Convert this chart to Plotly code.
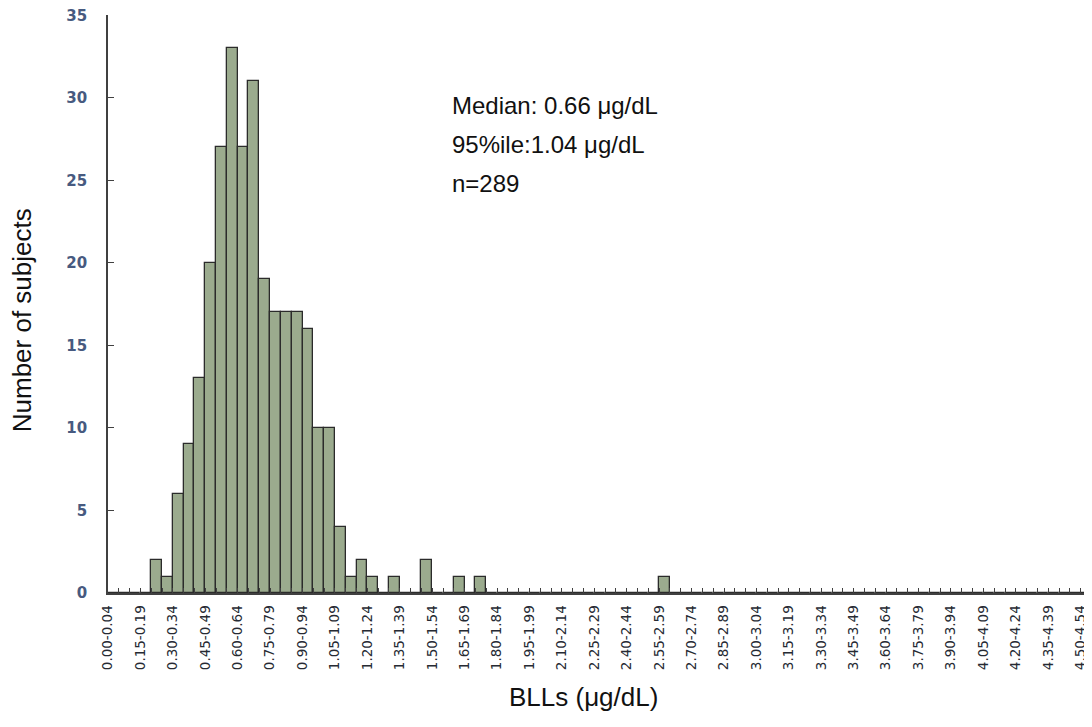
import plotly.graph_objects as go

# Bin labels shown on the axis (every third 0.05-wide bin, label at bin's left edge)
tick_labels = [
    "0.00-0.04", "0.15-0.19", "0.30-0.34", "0.45-0.49", "0.60-0.64", "0.75-0.79",
    "0.90-0.94", "1.05-1.09", "1.20-1.24", "1.35-1.39", "1.50-1.54", "1.65-1.69",
    "1.80-1.84", "1.95-1.99", "2.10-2.14", "2.25-2.29", "2.40-2.44", "2.55-2.59",
    "2.70-2.74", "2.85-2.89", "3.00-3.04", "3.15-3.19", "3.30-3.34", "3.45-3.49",
    "3.60-3.64", "3.75-3.79", "3.90-3.94", "4.05-4.09", "4.20-4.24", "4.35-4.39",
    "4.50-4.54",
]

# Number of subjects per 0.05 µg/dL bin (0.00-0.04 ... 4.50-4.54), 91 bins
counts = [
    0, 0, 0, 0, 2, 1, 6, 9, 13, 20,
    27, 33, 27, 31, 19, 17, 17, 17, 16, 10,
    10, 4, 1, 2, 1, 0, 1, 0, 0, 2,
    0, 0, 1, 0, 1, 0, 0, 0, 0, 0,
    0, 0, 0, 0, 0, 0, 0, 0, 0, 0,
    0, 1, 0, 0, 0, 0, 0, 0, 0, 0,
    0, 0, 0, 0, 0, 0, 0, 0, 0, 0,
    0, 0, 0, 0, 0, 0, 0, 0, 0, 0,
    0, 0, 0, 0, 0, 0, 0, 0, 0, 0,
    0,
]

y_ticks = [0, 5, 10, 15, 20, 25, 30, 35]

stats_lines = ["Median: 0.66 μg/dL", "95%ile:1.04 μg/dL", "n=289"]

n_bins = len(counts)
bin_idx = list(range(n_bins))

fig = go.Figure(
    go.Bar(
        x=[i + 0.5 for i in bin_idx],
        y=counts,
        width=1,
        marker=dict(color="#9bab8e", line=dict(color="#2b2b2b", width=1.3)),
        showlegend=False,
    )
)

tickvals = list(range(n_bins + 1))
ticktext = []
for i in tickvals:
    if i % 3 == 0 and i // 3 < len(tick_labels):
        ticktext.append(tick_labels[i // 3])
    else:
        ticktext.append("")

# page body has an 8px default margin, so the figure is sized/offset to compensate
fig.update_layout(
    width=1084,
    height=719,
    margin=dict(l=100, r=0, t=7, b=134),
    plot_bgcolor="white",
    paper_bgcolor="white",
    bargap=0,
    xaxis=dict(
        range=[0, 91.05],
        tickvals=tickvals,
        ticktext=ticktext,
        tickangle=-90,
        ticks="inside",
        ticklen=5,
        tickwidth=1.2,
        tickcolor="#404040",
        showline=True,
        linecolor="#404040",
        linewidth=1.6,
        showgrid=False,
        zeroline=False,
        automargin=False,
        ticklabelstandoff=5,
        ticklabeloverflow="allow",
        tickfont=dict(family="DejaVu Sans", size=13.5, color="#262a33"),
    ),
    yaxis=dict(
        range=[0, 35.02],
        tickvals=y_ticks,
        ticks="inside",
        ticklen=6,
        tickwidth=1.2,
        tickcolor="#404040",
        showline=True,
        linecolor="#404040",
        linewidth=1.6,
        showgrid=False,
        zeroline=False,
        automargin=False,
        ticklabelstandoff=16,
        ticklabeloverflow="allow",
        tickfont=dict(family="DejaVu Sans", size=15, color="#475a80", weight="bold"),
    ),
)

ys = [0.8438, 0.7764, 0.7090]
for txt, yy in zip(stats_lines, ys):
    fig.add_annotation(
        text=txt, xref="paper", yref="paper", x=0.348, y=yy,
        xanchor="left", yanchor="middle", showarrow=False,
        font=dict(family="Liberation Sans", size=24, color="#111111"),
    )

fig.add_annotation(
    text="BLLs (μg/dL)", xref="paper", yref="paper", x=0.4829, y=-0.1792,
    xanchor="center", yanchor="middle", showarrow=False,
    font=dict(family="Liberation Sans", size=26, color="#111111"),
)
fig.add_annotation(
    text="Number of subjects", xref="paper", yref="paper", x=-0.0871, y=0.4724,
    xanchor="center", yanchor="middle", showarrow=False, textangle=-90,
    font=dict(family="Liberation Sans", size=26, color="#111111"),
)

fig.write_html("out.html")
